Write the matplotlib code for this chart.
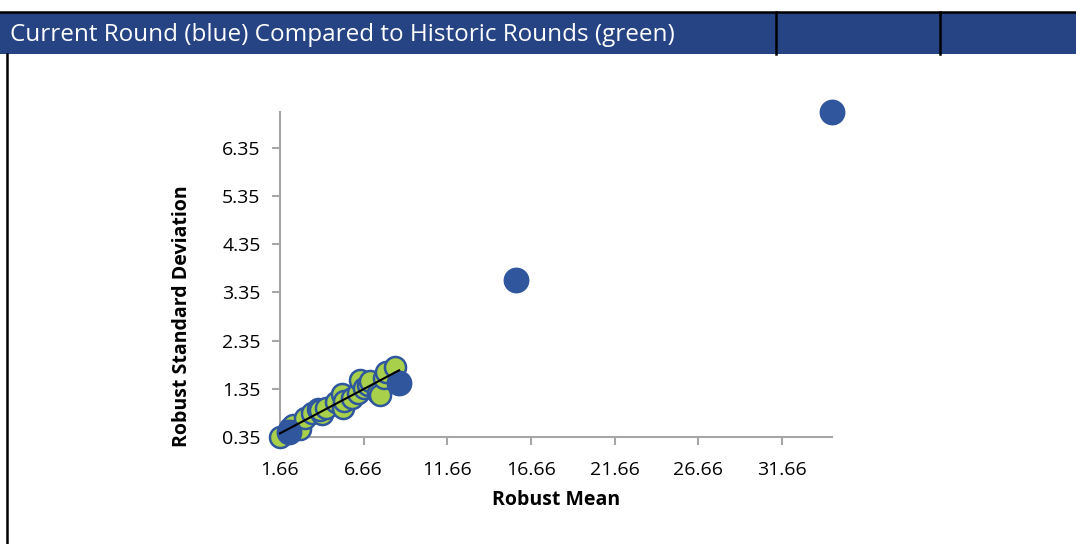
import numpy as np
import matplotlib
matplotlib.use("Agg")
import matplotlib.pyplot as plt
from matplotlib.patches import Rectangle
from matplotlib.lines import Line2D

plt.rcParams['font.family'] = ['Open Sans', 'DejaVu Sans']

# historic rounds (green)
hist_mean = [1.66, 2.26, 2.45, 2.86, 3.16, 3.57, 3.93, 4.17, 4.05, 4.40, 5.01,
             5.37, 5.43, 5.49, 5.97, 6.33, 6.45, 6.69, 6.92, 7.04, 7.52, 7.64,
             7.88, 8.00, 8.54]
hist_sd = [0.35, 0.54, 0.60, 0.52, 0.74, 0.85, 0.93, 0.83, 0.90, 0.95, 1.08,
           1.24, 0.95, 1.10, 1.16, 1.26, 1.53, 1.37, 1.43, 1.51, 1.26, 1.22,
           1.57, 1.70, 1.80]

# current round (blue)
cur_mean = [2.20, 8.78, 15.77, 34.66]
cur_sd = [0.45, 1.48, 3.60, 7.09]

x_ticks = [1.66, 6.66, 11.66, 16.66, 21.66, 26.66, 31.66]
y_ticks = [0.35, 1.35, 2.35, 3.35, 4.35, 5.35, 6.35]

title = "Current Round (blue) Compared to Historic Rounds (green)"

fig = plt.figure(figsize=(10.76, 5.44), dpi=100)
W, H = 1076, 544

# header band like the spreadsheet row
fig.patches.append(Rectangle((0, 1 - 54 / H), 1, 42 / H, transform=fig.transFigure,
                             facecolor='#264384', edgecolor='none', zorder=0))
fig.lines.append(Line2D([0, 1], [1 - 12 / H, 1 - 12 / H], transform=fig.transFigure,
                        color='black', lw=1.8))
for xp in [776, 940]:
    fig.lines.append(Line2D([xp / W, xp / W], [1 - 54 / H, 1 - 12 / H],
                            transform=fig.transFigure, color='black', lw=1.8))
fig.lines.append(Line2D([7 / W, 7 / W], [0, 1 - 54 / H], transform=fig.transFigure,
                        color='black', lw=1.8))
fig.text(10 / W, 1 - 35 / H, title, color='white', fontsize=17.5, va='center', ha='left')

ax = fig.add_axes([280 / W, 1 - 437 / H, 552 / W, 325 / H])

ax.scatter(hist_mean, hist_sd, s=230, color='#A9D04A', edgecolors='#2F579E',
           linewidths=1.8, zorder=3, clip_on=False)
ax.scatter(cur_mean, cur_sd, s=310, color='#30569E', edgecolors='#30569E',
           linewidths=1, zorder=4, clip_on=False)

# linear trendline of historic data
k, b = np.polyfit(hist_mean, hist_sd, 1)
xt = np.array([min(hist_mean), max(cur_mean[:2])])
ax.plot(xt, k * xt + b, color='black', lw=1.5, zorder=5, clip_on=False)

ax.set_xlim(1.66, 34.66)
ax.set_ylim(0.35, 7.09)
ax.set_xticks(x_ticks)
ax.set_xticklabels([f"{v:.2f}" for v in x_ticks])
ax.set_yticks(y_ticks)
ax.set_yticklabels([f"{v:.2f}" for v in y_ticks])

for side in ['top', 'right']:
    ax.spines[side].set_visible(False)
for side in ['left', 'bottom']:
    ax.spines[side].set_color('#A6A6A6')
    ax.spines[side].set_linewidth(1.5)
ax.tick_params(colors='#A6A6A6', length=6, width=1.5, labelcolor='black',
               labelsize=14, pad=8)
ax.tick_params(axis='x', pad=11)

ax.set_xlabel("Robust Mean", fontsize=14, fontweight='bold')
ax.set_ylabel("Robust Standard Deviation", fontsize=14, fontweight='bold')
ax.xaxis.set_label_coords(0.5, -0.162)
ax.yaxis.set_label_coords(-0.16, 0.372)

fig.savefig("out.png", dpi=100)
